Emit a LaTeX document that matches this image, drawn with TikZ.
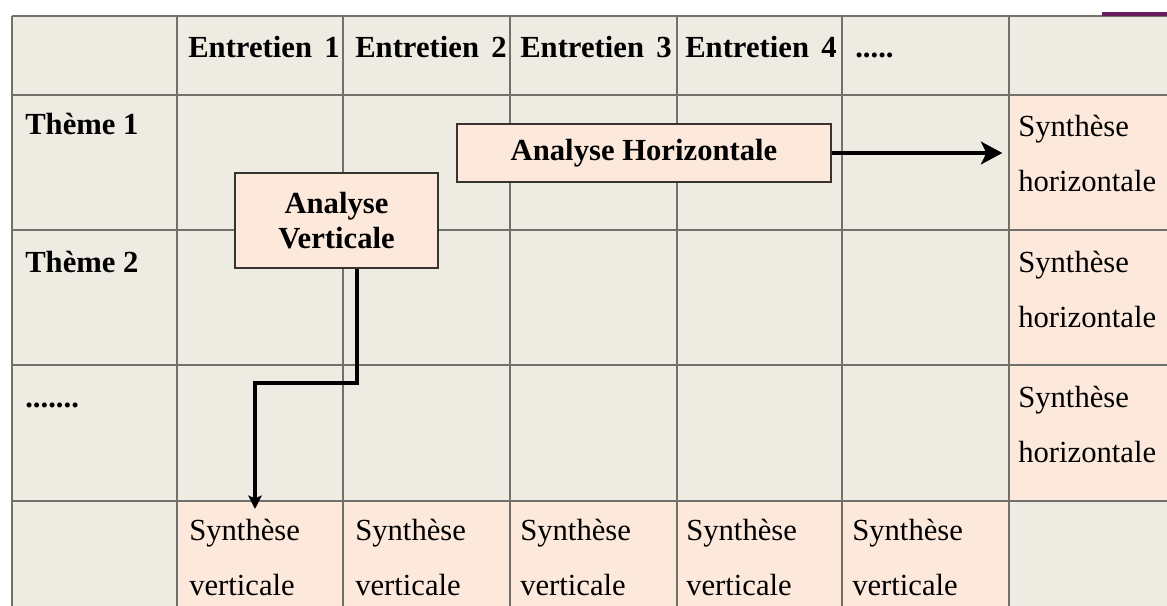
\documentclass[tikz,border=0pt]{standalone}
\usepackage{fontspec}
\setmainfont{Liberation Serif}
\usetikzlibrary{arrows.meta,calc}
\definecolor{cellgrey}{RGB}{237,235,226}
\definecolor{peach}{RGB}{252,233,219}
\definecolor{gridline}{RGB}{112,112,108}
\definecolor{boxline}{RGB}{58,52,48}
\definecolor{barcol}{RGB}{104,30,92}
\tikzset{
  txt/.style={anchor=base west, inner sep=0pt, font=\fontsize{23}{27}\selectfont},
  head/.style={txt, font=\fontsize{23}{27}\selectfont\bfseries},
  peachcell/.style={fill=peach, anchor=north west, inner sep=0pt, outer sep=0pt,
    minimum width=125pt},
  grid/.style={draw=gridline, line width=1.3pt},
  analysis/.style={draw=boxline, line width=1.4pt, fill=peach, align=center,
    inner sep=0pt, font=\fontsize{23}{26}\selectfont\bfseries},
  flow/.style={line width=3.2pt, black}
}
\begin{document}
\begin{tikzpicture}[x=0.75pt, y=-0.75pt]
\useasboundingbox (0,0) rectangle (1167,606);
\clip (0,0) rectangle (1167,606);
\fill[white] (0,0) rectangle (1167,606);
% table background
\fill[cellgrey] (12,16) rectangle (1180,620);
% synthesis cells
\node[peachcell, minimum height=101.25pt] (hs1) at (1009,95) {};
\node[peachcell, minimum height=101.25pt] (hs2) at (1009,230) {};
\node[peachcell, minimum height=102pt] (hs3) at (1009,365) {};
\node[peachcell, minimum height=90pt] (vs1) at (177,501) {};
\node[peachcell, minimum height=90pt] (vs2) at (343,501) {};
\node[peachcell, minimum height=90pt] (vs3) at (510,501) {};
\node[peachcell, minimum height=90pt] (vs4) at (677,501) {};
\node[peachcell, minimum height=90pt] (vs5) at (842,501) {};
% grid
\foreach \y in {16,95,230,365,501} \draw[grid] (12,\y) -- (1180,\y);
\foreach \x in {12,177,343,510,677,842,1009} \draw[grid] (\x,16) -- (\x,620);
% bar above the table
\fill[barcol] (1102,12) rectangle (1167,16);
% column headers
\node[head] (e1) at (188,58) {Entretien\hspace{.4em}1};
\node[head] (e2) at (355,58) {Entretien\hspace{.4em}2};
\node[head] (e3) at (520,58) {Entretien\hspace{.4em}3};
\node[head] (e4) at (685,58) {Entretien\hspace{.4em}4};
\node[head] (e5) at (855,58) {.....};
% row headers
\node[head] (t1) at (25,135) {Thème 1};
\node[head] (t2) at (25,272) {Thème 2};
\node[head] (t3) at (25,407) {.......};
% horizontal syntheses
\foreach \n/\y in {1/137, 2/272, 3/407} {
  \node[txt] (hsa\n) at (1018,\y) {Synthèse};
  \node[txt] (hsb\n) at (1018,\y+55) {horizontale};
}
% vertical syntheses
\foreach \n/\x in {1/189, 2/355, 3/520, 4/686, 5/852} {
  \node[txt] (vsa\n) at (\x,540) {Synthèse};
  \node[txt] (vsb\n) at (\x,595) {verticale};
}
% analysis boxes
\node[analysis, minimum width=280.5pt, minimum height=43.5pt] (ah) at (644,153)
  {Analyse Horizontale};
\node[analysis, minimum width=152.25pt, minimum height=71.25pt] (av) at (336.5,220.5)
  {Analyse\\Verticale};
% connectors
\draw[flow, -{Stealth[length=16pt, width=17pt, inset=4pt]}, shorten >=5pt]
  (ah.east) -- (ah.east -| hs1.west);
\coordinate (k1) at (357,383);
\coordinate (k2) at (255,383);
\coordinate (k3) at (255,509);
\draw[flow, -{Stealth[length=10pt, width=10pt, inset=2pt]}]
  (av.south -| k1) |- (k2) -- (k3);
\end{tikzpicture}
\end{document}
